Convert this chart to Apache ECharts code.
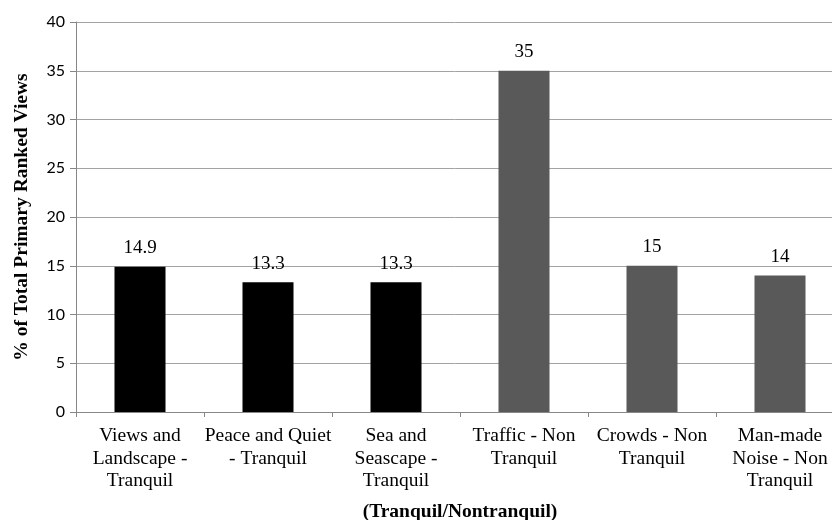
<!DOCTYPE html>
<html>
<head>
<meta charset="utf-8">
<script src="https://cdn.jsdelivr.net/npm/echarts@6/dist/echarts.min.js"></script>
<style>
  html, body { margin: 0; padding: 0; background: #fff; }
  #chart { width: 832px; height: 520px; }
</style>
</head>
<body>
<div id="chart"></div>
<script>
// Share of primary ranked views per category
const categories = [
  'Views and\nLandscape -\nTranquil',
  'Peace and Quiet\n- Tranquil',
  'Sea and\nSeascape -\nTranquil',
  'Traffic - Non\nTranquil',
  'Crowds - Non\nTranquil',
  'Man-made\nNoise - Non\nTranquil'
];
const values = [14.9, 13.3, 13.3, 35, 15, 14];
const barColors = ['#000000', '#000000', '#000000', '#595959', '#595959', '#595959'];
const yTicks = { min: 0, max: 40, interval: 5 };

const serif = '"Liberation Serif", "Times New Roman", serif';
const chart = echarts.init(document.getElementById('chart'), null, { renderer: 'canvas' });

chart.setOption({
  animation: false,
  backgroundColor: '#ffffff',
  // plot area runs slightly past the right edge of the canvas
  grid: { left: 76, top: 22, width: 768, bottom: 108, containLabel: false, outerBoundsMode: 'none' },
  xAxis: {
    type: 'category',
    data: categories,
    name: '(Tranquil/Nontranquil)',
    nameLocation: 'middle',
    nameGap: 90,
    nameTextStyle: { fontFamily: serif, fontWeight: 'bold', fontSize: 19.5, color: '#000' },
    axisLine: { lineStyle: { color: '#878787', width: 1 } },
    axisTick: { show: true, length: 5, lineStyle: { color: '#878787' } },
    axisLabel: {
      interval: 0,
      margin: 13,
      fontFamily: serif,
      fontSize: 19.5,
      lineHeight: 22.5,
      color: '#000'
    },
    splitLine: { show: false }
  },
  yAxis: {
    type: 'value',
    min: yTicks.min,
    max: yTicks.max,
    interval: yTicks.interval,
    name: '% of Total Primary Ranked Views',
    nameLocation: 'middle',
    nameGap: 44,
    nameTextStyle: { fontFamily: serif, fontWeight: 'bold', fontSize: 19.5, color: '#000' },
    axisLine: { show: true, lineStyle: { color: '#878787', width: 1 } },
    axisTick: { show: true, length: 6, lineStyle: { color: '#878787' } },
    axisLabel: { margin: 11, fontFamily: 'Lato, "Open Sans", sans-serif', fontSize: 16, color: '#000' },
    splitLine: { show: true, lineStyle: { color: '#a3a3a3', width: 1 } }
  },
  series: [{
    type: 'bar',
    barWidth: 51,
    data: values.map((v, i) => ({ value: v, itemStyle: { color: barColors[i] } })),
    label: {
      show: true,
      position: 'top',
      distance: 9,
      fontFamily: serif,
      fontSize: 19,
      color: '#000'
    }
  }]
});
</script>
</body>
</html>
